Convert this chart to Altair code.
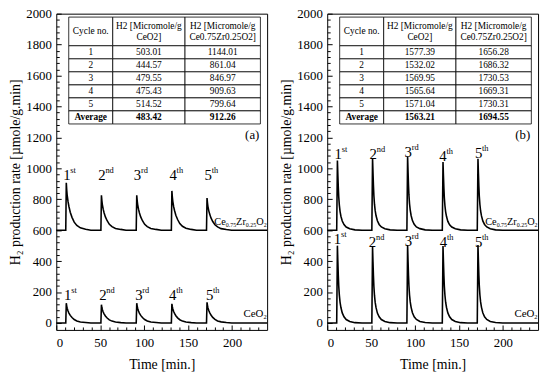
import altair as alt
import pandas as pd

FONT = "Liberation Serif"

# ---------------- axis ticks ----------------
x_major = [0, 50, 100, 150, 200]
x_minor = [t for t in range(10, 240, 10) if t % 50]
y_major = [0, 200, 400, 600, 800, 1000, 1200, 1400, 1600, 1800, 2000]
y_minor = [v for v in range(40, 2000, 40) if v % 200]

# ---------------- series data ----------------
base_cezr = 600
base_ceo2 = 0

# panel (a)
a_start = [10.8, 50.8, 91.0, 131.0, 171.0]
a_offsets = [0, 0.6, 1.1, 1.6, 2.6, 3.6, 5.1, 7.1, 9.6, 12.6, 16.6, 22.6, 28.6]
a_cezr = [
    [600, 906, 860, 826, 784, 753, 716, 683, 652, 631, 615, 606, 600],
    [600, 826, 792, 767, 736, 713, 686, 661, 638, 623, 611, 605, 600],
    [600, 826, 792, 767, 736, 713, 686, 661, 638, 623, 611, 605, 600],
    [600, 854, 816, 788, 752, 727, 697, 669, 643, 625, 613, 605, 600],
    [600, 808, 777, 754, 725, 704, 679, 656, 635, 621, 610, 604, 600],
]
a_ceo2 = [
    [0, 128, 109, 95, 77, 64, 49, 35, 22, 13, 6, 3, 0],
    [0, 118, 100, 87, 71, 59, 45, 32, 20, 12, 6, 2, 0],
    [0, 128, 109, 95, 77, 64, 49, 35, 22, 13, 6, 3, 0],
    [0, 124, 105, 92, 74, 62, 47, 33, 21, 12, 6, 2, 0],
    [0, 134, 114, 99, 80, 67, 51, 36, 23, 13, 7, 3, 0],
]

# panel (b)
b_start = [10.8, 50.8, 90.7, 131.0, 170.8]
b_offsets = [0, 0.8, 1.3, 1.8, 2.3, 3.0, 3.8, 4.8, 6.3, 8.3, 10.8, 14.8, 20.8, 28.8]
b_cezr = [
    [600, 1050, 960, 879, 816, 762, 722, 690, 659, 636, 620, 609, 602, 600],
    [600, 1067, 974, 890, 824, 768, 726, 693, 661, 637, 621, 609, 602, 600],
    [600, 1076, 981, 895, 828, 771, 729, 695, 662, 638, 621, 610, 602, 600],
    [600, 1040, 952, 873, 811, 758, 719, 688, 657, 635, 620, 609, 602, 600],
    [600, 1061, 969, 886, 821, 766, 724, 692, 660, 637, 621, 609, 602, 600],
]
b_ceo2 = [
    [0, 500, 400, 310, 240, 180, 135, 100, 65, 40, 22, 10, 2, 0],
    [0, 494, 395, 306, 237, 178, 133, 99, 64, 40, 22, 10, 2, 0],
    [0, 504, 403, 312, 242, 181, 136, 101, 66, 40, 23, 10, 3, 0],
    [0, 498, 398, 309, 239, 179, 134, 100, 65, 40, 22, 10, 2, 0],
    [0, 504, 403, 312, 242, 181, 136, 101, 66, 40, 23, 10, 3, 0],
]

# cycle labels
cycle_num = ["1", "2", "3", "4", "5"]
cycle_sup = ["st", "nd", "rd", "th", "th"]
a_lab_cezr_t = [12.0, 52.0, 92.5, 133.0, 173.0]
a_lab_cezr_y = [955, 955, 955, 955, 955]
a_lab_ceo2_t = [13.0, 53.0, 94.0, 132.5, 174.5]
a_lab_ceo2_y = [178, 178, 178, 178, 178]
b_lab_cezr_t = [12.5, 52.4, 92.2, 131.8, 172.3]
b_lab_cezr_y = [1093, 1095, 1103, 1082, 1101]
b_lab_ceo2_t = [11.7, 51.6, 92.4, 132.4, 172.3]
b_lab_ceo2_y = [540, 525, 532, 525, 525]

# tables
table_cycles = ["1", "2", "3", "4", "5", "Average"]
a_tab_ceo2 = ["503.01", "444.57", "479.55", "475.43", "514.52", "483.42"]
a_tab_cezr = ["1144.01", "861.04", "846.97", "909.63", "799.64", "912.26"]
b_tab_ceo2 = ["1577.39", "1532.02", "1569.95", "1565.64", "1571.04", "1563.21"]
b_tab_cezr = ["1656.28", "1686.32", "1730.53", "1669.31", "1730.31", "1694.55"]
header_c0 = "Cycle no."
header_l1 = "H2 [Micromole/g"
header_c1 = "CeO2]"
header_c2 = "Ce0.75Zr0.25O2]"

# ---------------- layout ----------------
W, H = 214, 321
SX = W / 216.5
SY = H / 324.0
COL_EDGES = [v * SX for v in (12.8, 58.0, 132.2, 209.6)]
ROW_EDGES = [v * SY for v in (3.5, 32.9, 46.3, 59.6, 73.0, 86.3, 99.6, 113.0)]
HDR_L1, HDR_L2 = 12.9 * SY, 23.5 * SY
TAG_X, TAG_Y = 208.5 * SX, 124.5 * SY
Y_TITLE = "H\u2082 production rate [\u00b5mole/g.min]"

xs = alt.Scale(domain=[0, 240], nice=False, zero=False)
ys = alt.Scale(domain=[-45, 2000], nice=False, zero=False)

AX = dict(domain=False, grid=False, labelFont=FONT, titleFont=FONT,
          labelFontSize=13, titleFontSize=14, titleFontWeight="normal",
          labelColor="black", titleColor="black", tickColor="black", tickWidth=1)


def curve_df(start, offsets, cezr, ceo2):
    rows = []
    for name, base, vals in (("CeZr", base_cezr, cezr), ("CeO2", base_ceo2, ceo2)):
        rows.append({"t": 0.0, "v": base, "s": name})
        for s0, cyc in zip(start, vals):
            for dt, v in zip(offsets, cyc):
                rows.append({"t": s0 + dt, "v": v, "s": name})
        rows.append({"t": 240.0, "v": base, "s": name})
    return pd.DataFrame(rows)


def label_df(t1, y1, t2, y2):
    return pd.DataFrame({
        "t": t1 + t2, "y": y1 + y2,
        "num": cycle_num * 2, "sup": cycle_sup * 2,
    })


# Times-like width estimates (em) for placing chemical formula pieces
EM = {"C": 0.667, "e": 0.444, "Z": 0.611, "r": 0.333, "O": 0.722,
      ".": 0.25, "0": 0.5, "2": 0.5, "5": 0.5, "7": 0.5}


def formula_df(pieces, ybase):
    widths = [sum(EM[c] for c in txt) * size for txt, size, sub in pieces]
    x = W - 0.5 - sum(widths)
    rows = []
    for (txt, size, sub), w in zip(pieces, widths):
        rows.append({"px": x, "y": ybase, "txt": txt, "sub": sub, "size": size})
        x += w
    return pd.DataFrame(rows)


def panel(cdf, ldf, tab_c1, tab_c2, tag):
    line = alt.Chart(cdf).mark_line(color="black", strokeWidth=1.6).encode(
        x=alt.X("t:Q", scale=xs, axis=alt.Axis(
            values=x_major, format="d", title="Time [min.]", orient="bottom",
            tickSize=5, offset=-5, labelPadding=7, titlePadding=8, **AX)),
        y=alt.Y("v:Q", scale=ys, axis=alt.Axis(
            values=y_major, format="d", title=Y_TITLE, orient="left",
            tickSize=5, offset=-5, labelPadding=5, titlePadding=3, **AX)),
        detail="s:N",
    )
    minor = alt.Chart(cdf).mark_line(opacity=0).encode(
        x=alt.X("t:Q", scale=xs, axis=alt.Axis(
            values=x_minor, title=None, orient="bottom",
            labels=False, tickSize=3, offset=-3, **AX)),
        y=alt.Y("v:Q", scale=ys, axis=alt.Axis(
            values=y_minor, title=None, orient="left",
            labels=False, tickSize=3, offset=-3, **AX)),
        detail="s:N",
    )
    digits = alt.Chart(ldf).mark_text(font=FONT, fontSize=15, align="center", baseline="middle").encode(
        x=alt.X("t:Q", axis=None), y=alt.Y("y:Q", axis=None), text="num:N")
    sups = alt.Chart(ldf).mark_text(font=FONT, fontSize=8.5, align="left", baseline="middle", dx=3.5, dy=-5).encode(
        x=alt.X("t:Q", axis=None), y=alt.Y("y:Q", axis=None), text="sup:N")

    f1 = formula_df([("Ce", 10.5, 0), ("0.75", 6, 1), ("Zr", 10.5, 0),
                     ("0.25", 6, 1), ("O", 10.5, 0), ("2", 6, 1)], 636)
    f2 = formula_df([("CeO", 11, 0), ("2", 6.5, 1)], 40)
    fdf = pd.concat([f1, f2])
    big = alt.Chart(fdf[fdf["sub"] == 0]).mark_text(font=FONT, align="left", baseline="alphabetic").encode(
        x=alt.X("px:Q", scale=None, axis=None), y=alt.Y("y:Q", axis=None),
        text="txt:N", size=alt.Size("size:Q", scale=None, legend=None))
    small = alt.Chart(fdf[fdf["sub"] == 1]).mark_text(font=FONT, align="left", baseline="alphabetic", dy=2.5).encode(
        x=alt.X("px:Q", scale=None, axis=None), y=alt.Y("y:Q", axis=None),
        text="txt:N", size=alt.Size("size:Q", scale=None, legend=None))

    # table cells
    rects = []
    for c in range(3):
        for r in range(len(ROW_EDGES) - 1):
            rects.append({"x1": COL_EDGES[c], "x2": COL_EDGES[c + 1],
                          "y1": ROW_EDGES[r], "y2": ROW_EDGES[r + 1]})
    rdf = pd.DataFrame(rects)
    cells = alt.Chart(rdf).mark_rect(fill="white", stroke="black", strokeWidth=0.8).encode(
        x=alt.X("x1:Q", scale=None, axis=None), x2="x2:Q",
        y=alt.Y("y1:Q", scale=None, axis=None), y2="y2:Q")

    ccent = [(COL_EDGES[i] + COL_EDGES[i + 1]) / 2 for i in range(3)]
    texts = [
        {"px": ccent[0], "py": (ROW_EDGES[0] + ROW_EDGES[1]) / 2, "txt": header_c0, "b": 0},
        {"px": ccent[1], "py": HDR_L1, "txt": header_l1, "b": 0},
        {"px": ccent[1], "py": HDR_L2, "txt": header_c1, "b": 0},
        {"px": ccent[2], "py": HDR_L1, "txt": header_l1, "b": 0},
        {"px": ccent[2], "py": HDR_L2, "txt": header_c2, "b": 0},
    ]
    for i in range(6):
        yc = (ROW_EDGES[i + 1] + ROW_EDGES[i + 2]) / 2
        b = 1 if i == 5 else 0
        texts.append({"px": ccent[0], "py": yc, "txt": table_cycles[i], "b": b})
        texts.append({"px": ccent[1], "py": yc, "txt": tab_c1[i], "b": b})
        texts.append({"px": ccent[2], "py": yc, "txt": tab_c2[i], "b": b})
    tdf = pd.DataFrame(texts)
    tnorm = alt.Chart(tdf[tdf["b"] == 0]).mark_text(font=FONT, fontSize=9.5, align="center", baseline="middle").encode(
        x=alt.X("px:Q", scale=None, axis=None), y=alt.Y("py:Q", scale=None, axis=None), text="txt:N")
    tbold = alt.Chart(tdf[tdf["b"] == 1]).mark_text(font=FONT, fontSize=9.5, fontWeight="bold", align="center", baseline="middle").encode(
        x=alt.X("px:Q", scale=None, axis=None), y=alt.Y("py:Q", scale=None, axis=None), text="txt:N")
    tagc = alt.Chart(pd.DataFrame({"px": [TAG_X], "py": [TAG_Y], "txt": [tag]})).mark_text(
        font=FONT, fontSize=13, align="right", baseline="middle").encode(
        x=alt.X("px:Q", scale=None, axis=None), y=alt.Y("py:Q", scale=None, axis=None), text="txt:N")

    return alt.layer(line, minor, digits, sups, big, small, cells, tnorm, tbold, tagc).resolve_axis(
        x="independent", y="independent").properties(width=W, height=H)


pa = panel(curve_df(a_start, a_offsets, a_cezr, a_ceo2),
           label_df(a_lab_cezr_t, a_lab_cezr_y, a_lab_ceo2_t, a_lab_ceo2_y),
           a_tab_ceo2, a_tab_cezr, "(a)")
pb = panel(curve_df(b_start, b_offsets, b_cezr, b_ceo2),
           label_df(b_lab_cezr_t, b_lab_cezr_y, b_lab_ceo2_t, b_lab_ceo2_y),
           b_tab_ceo2, b_tab_cezr, "(b)")

chart = alt.hconcat(pa, pb, spacing=8).properties(
    padding={"left": 0, "top": -4, "right": 0, "bottom": 0}
).configure_view(stroke="black", strokeWidth=1).configure_text(font=FONT, color="black")

chart.save("out.html", embed_options={"renderer": "svg", "actions": False})
